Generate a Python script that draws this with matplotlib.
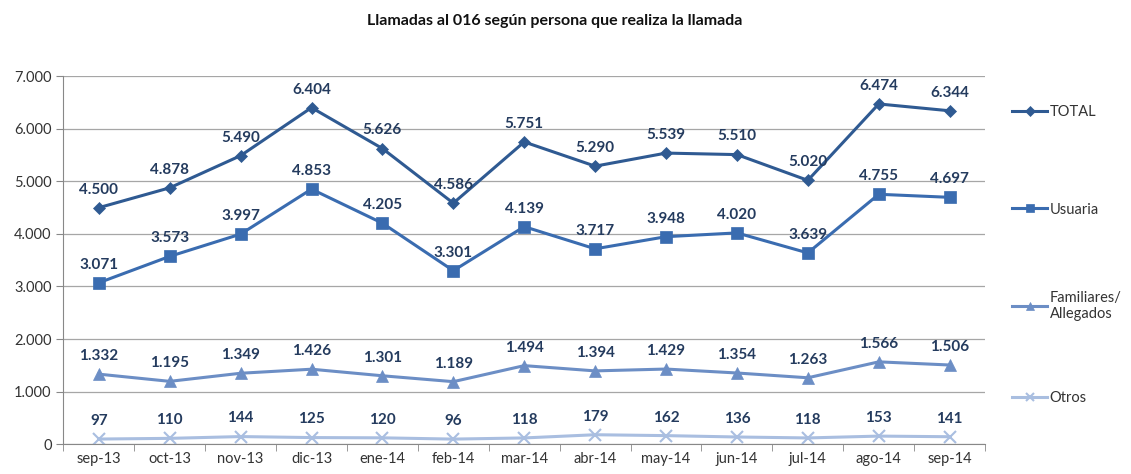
import matplotlib.pyplot as plt
from matplotlib.ticker import FuncFormatter

# Data
meses = ["sep-13", "oct-13", "nov-13", "dic-13", "ene-14", "feb-14", "mar-14",
         "abr-14", "may-14", "jun-14", "jul-14", "ago-14", "sep-14"]
total = [4500, 4878, 5490, 6404, 5626, 4586, 5751, 5290, 5539, 5510, 5020, 6474, 6344]
usuaria = [3071, 3573, 3997, 4853, 4205, 3301, 4139, 3717, 3948, 4020, 3639, 4755, 4697]
familiares = [1332, 1195, 1349, 1426, 1301, 1189, 1494, 1394, 1429, 1354, 1263, 1566, 1506]
otros = [97, 110, 144, 125, 120, 96, 118, 179, 162, 136, 118, 153, 141]

series = [
    ("TOTAL", total, "#2F5A92", "D", 6),
    ("Usuaria", usuaria, "#3A6CB0", "s", 8),
    ("Familiares/\nAllegados", familiares, "#6C8EC5", "^", 8),
    ("Otros", otros, "#A9BEE0", "x", 8),
]
# vertical position of each legend entry (figure fraction)
legend_y = [0.764, 0.558, 0.355, 0.16]

plt.rcParams['font.family'] = ['Lato', 'DejaVu Sans']

def miles(v, pos=None):
    return f"{int(v):,}".replace(",", ".")

fig = plt.figure(figsize=(11.31, 4.74), dpi=100)
ax = fig.add_axes([0.056, 0.063, 0.815, 0.776])

x = list(range(len(meses)))
lines = []
for nombre, vals, color, marker, ms in series:
    ln, = ax.plot(x, vals, color=color, lw=2.2, marker=marker, markersize=ms,
                  markeredgewidth=1.5 if marker == "x" else 0.5, label=nombre)
    lines.append(ln)
    for xi, v in zip(x, vals):
        ax.annotate(miles(v), (xi, v), xytext=(0, 8), textcoords="offset points",
                    ha="center", va="bottom", fontsize=11, fontweight="bold",
                    color="#243B5E")

ax.set_xlim(-0.5, 12.5)
ax.set_ylim(0, 7000)
ax.set_yticks(range(0, 7001, 1000))
ax.yaxis.set_major_formatter(FuncFormatter(miles))
ax.set_xticks(x)
ax.set_xticklabels(meses)
ax.set_xticks([i - 0.5 for i in range(14)], minor=True)
ax.tick_params(axis="x", which="major", length=0, labelsize=10.5, colors="#333333", pad=6)
ax.tick_params(axis="x", which="minor", length=5, color="#888888")
ax.tick_params(axis="y", length=5, labelsize=10.5, colors="#333333", width=0.8)
ax.tick_params(axis="y", color="#888888")
ax.grid(axis="y", color="#A6A6A6", lw=0.9)
ax.set_axisbelow(True)
for s in ["top", "right"]:
    ax.spines[s].set_visible(False)
ax.spines["left"].set_color("#888888")
ax.spines["bottom"].set_color("#888888")

# one legend per entry so they spread out like the original
for ln, yy in zip(lines, legend_y):
    leg = fig.legend([ln], [ln.get_label()], loc="center left",
                     bbox_to_anchor=(0.886, yy), frameon=False, fontsize=10.5,
                     handlelength=2.4, handletextpad=0.15, labelcolor="#333333",
                     markerscale=0.8, borderpad=0.2)

fig.text(0.49, 0.955, "Llamadas al 016 según persona que realiza la llamada",
         ha="center", va="center", fontsize=11.5, fontweight="bold", color="#111111")

fig.savefig("out.png", dpi=100)
